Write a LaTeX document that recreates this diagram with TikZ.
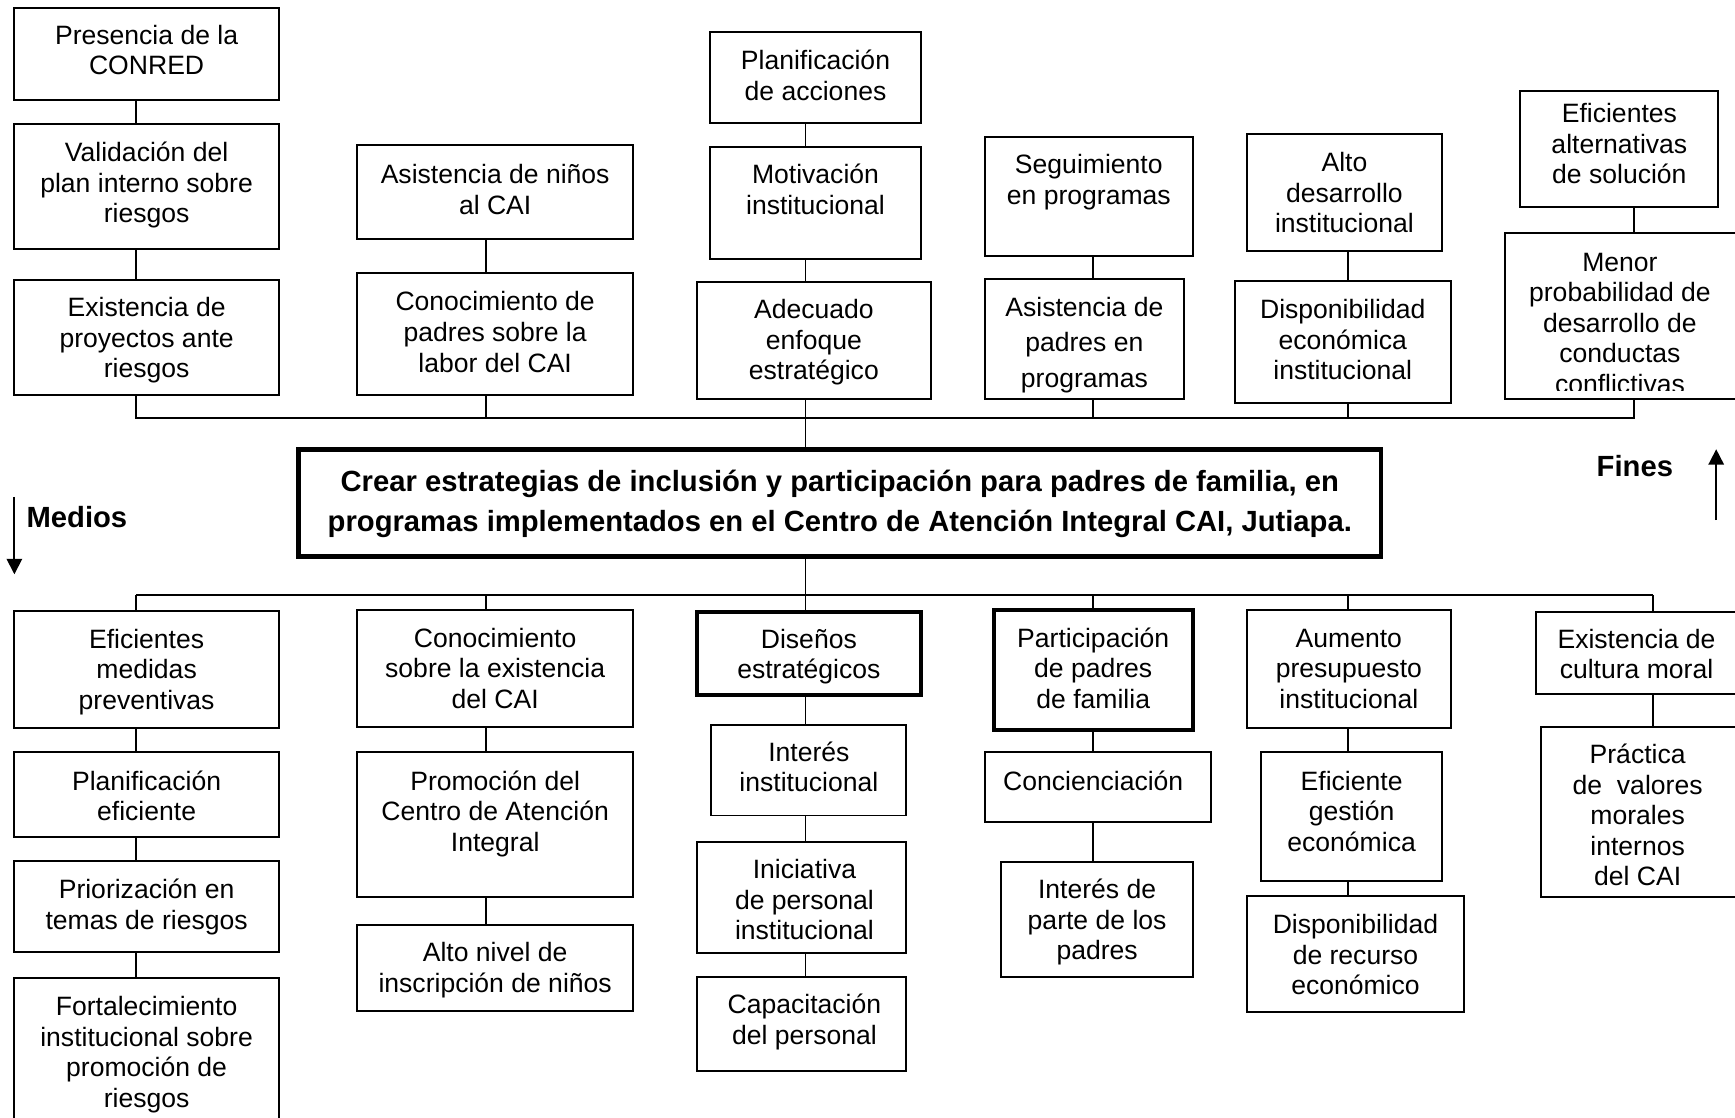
\documentclass[tikz,border=0pt]{standalone}
\usepackage{fontspec}
\setmainfont{Liberation Sans}
\usetikzlibrary{arrows.meta}
\newcommand\bxx[6][box]{%
  \node[#1, minimum width={(#5-#3)*0.5pt}, minimum height={(#6-#4)*0.5pt}] (#2) at ({(#3+#5)/2},{(#4+#6)/2}) {};}
\newcommand\tx[4][]{\node[txt,#1] (#2) at (#3) {#4};}
\begin{document}
\begin{tikzpicture}[x=0.5pt,y=-0.5pt,
  box/.style={draw, line width=0.9pt, inner sep=0pt, outer sep=0pt},
  thickbox/.style={draw, line width=1.9pt, inner sep=0pt, outer sep=0pt},
  mainbox/.style={draw, line width=2.2pt, inner sep=0pt, outer sep=0pt},
  txt/.style={align=center, anchor=base, inner sep=0pt, yshift=-1.5pt, font=\fontsize{12}{13.8}\selectfont},
  btxt/.style={align=center, anchor=base, inner sep=0pt, font=\bfseries\fontsize{13.2}{18}\selectfont},
  conn/.style={line width=0.8pt},
  arr/.style={line width=0.8pt, -{Triangle[length=7pt,width=7pt]}}]
\useasboundingbox (0,0) rectangle (1568,1010);
% ---------- top row (fines) ----------
\bxx{p1}{13}{7}{252}{90}
\bxx{p2}{13}{112}{252}{225}
\bxx{p3}{13}{253}{252}{357}
\bxx{q1}{323}{131}{572}{216}
\bxx{q2}{323}{247}{572}{357}
\bxx{r1}{642}{29}{832}{111}
\bxx{r2}{642}{133}{832}{234}
\bxx{r3}{630}{255}{841}{361}
\bxx{s1}{890}{124}{1078}{231}
\bxx{s2}{890}{252}{1070}{361}
\bxx{u1}{1127}{121}{1303}{227}
\bxx{u2}{1116}{254}{1311}{364}
\bxx{v1}{1374}{82}{1553}{187}
\bxx{v2}{1360}{211}{1590}{361}
\tx{tp1}{132.5,64.6}{Presencia de la\\CONRED}
\tx{tp2}{132.5,198.2}{Validación del\\plan interno sobre\\riesgos}
\tx{tp3}{132.5,338.2}{Existencia de\\proyectos ante\\riesgos}
\tx{tq1}{447.5,190.6}{Asistencia de niños\\al CAI}
\tx{tq2}{447.5,333.2}{Conocimiento de\\padres sobre la\\labor del CAI}
\tx{tr1}{737,87.6}{Planificación\\de acciones}
\tx{tr2}{737,190.6}{Motivación\\institucional}
\tx{tr3}{735.5,340.2}{Adecuado\\enfoque\\estratégico}
\tx{ts1}{984,181.6}{Seguimiento\\en programas}
\tx[font=\fontsize{12}{16}\selectfont]{ts2}{980,347}{Asistencia de\\padres en\\programas}
\tx{tu1}{1215,207.2}{Alto\\desarrollo\\institucional}
\tx{tu2}{1213.5,340.2}{Disponibilidad\\económica\\institucional}
\tx{tv1}{1463.5,163.2}{Eficientes\\alternativas\\de solución}
\begin{scope}
  \clip (1362,213) rectangle (1568,353);
  \tx{tv2}{1464,352.4}{Menor\\probabilidad de\\desarrollo de\\conductas\\conflictivas}
\end{scope}
% columns / bus top
\coordinate (c1) at (123,378);
\coordinate (c2) at (439,378);
\coordinate (c3) at (728,378);
\coordinate (c4) at (988,378);
\coordinate (c5) at (1218,378);
\coordinate (c6) at (1477,378);
\draw[conn] (p1.south -| c1) -- (p2.north -| c1);
\draw[conn] (p2.south -| c1) -- (p3.north -| c1);
\draw[conn] (q1.south -| c2) -- (q2.north -| c2);
\draw[conn] (r1.south -| c3) -- (r2.north -| c3);
\draw[conn] (r2.south -| c3) -- (r3.north -| c3);
\draw[conn] (s1.south -| c4) -- (s2.north -| c4);
\draw[conn] (u1.south -| c5) -- (u2.north -| c5);
\draw[conn] (v1.south -| c6) -- (v2.north -| c6);
\draw[conn] (p3.south -| c1) -- (c1) -- (c6) -- (v2.south -| c6);
\draw[conn] (q2.south -| c2) -- (c2);
\draw[conn] (r3.south -| c3) -- (c3);
\draw[conn] (s2.south -| c4) -- (c4);
\draw[conn] (u2.south -| c5) -- (c5);
% ---------- center ----------
\bxx[mainbox]{main}{270}{406}{1248}{503}
\node[btxt] (tmain) at (759,480) {Crear estrategias de inclusión y participación para padres de familia, en\\programas implementados en el Centro de Atención Integral CAI, Jutiapa.};
\draw[conn] (c3) -- (main.north -| c3);
\node[btxt] (fines) at (1477.5,431) {Fines};
\node[btxt] (medios) at (69.5,477) {Medios};
\coordinate (fA) at (1551,470);
\coordinate (fB) at (1551,406);
\draw[arr] (fA) -- (fB);
\coordinate (mA) at (13,449);
\coordinate (mB) at (13,519);
\draw[arr] (mA) -- (mB);
% ---------- bottom row (medios) ----------
\coordinate (d1) at (123,538);
\coordinate (d2) at (439,538);
\coordinate (d3) at (728,538);
\coordinate (d4) at (988,538);
\coordinate (d5) at (1218,538);
\coordinate (d6) at (1494,538);
\draw[conn] (main.south -| d3) -- (d3);
\draw[conn] (d1) -- (d6);
\bxx{a1}{13}{552}{252}{658}
\bxx{a2}{13}{680}{252}{756}
\bxx{a3}{13}{778}{252}{860}
\bxx{a4}{13}{884}{252}{1030}
\bxx{b1}{323}{551}{572}{657}
\bxx{b2}{323}{680}{572}{811}
\bxx{b3}{323}{836}{572}{914}
\bxx[thickbox]{e1}{630}{553}{832}{628}
\bxx{e2}{643}{655}{819}{737}
\bxx{e3}{630}{761}{819}{861}
\bxx{e4}{630}{883}{819}{968}
\bxx[thickbox]{f1}{898}{551}{1078}{660}
\bxx{f2}{890}{680}{1094}{743}
\bxx{f3}{905}{779}{1078}{883}
\bxx{g1}{1127}{551}{1311}{658}
\bxx{g2}{1140}{680}{1303}{796}
\bxx{g3}{1127}{810}{1323}{915}
\bxx{h1}{1388}{553}{1590}{627}
\bxx{h2}{1393}{657}{1590}{811}
\tx{ta1}{132.5,638.2}{Eficientes\\medidas\\preventivas}
\tx{ta2}{132.5,738.6}{Planificación\\eficiente}
\tx{ta3}{132.5,836.6}{Priorización en\\temas de riesgos}
\tx{ta4}{132.5,997.8}{Fortalecimiento\\institucional sobre\\promoción de\\riesgos}
\tx{tb1}{447.5,637.2}{Conocimiento\\sobre la existencia\\del CAI}
\tx{tb2}{447.5,766.2}{Promoción del\\Centro de Atención\\Integral}
\tx{tb3}{447.5,893.6}{Alto nivel de\\inscripción de niños}
\tx{te1}{731,610.6}{Diseños\\estratégicos}
\tx{te2}{731,712.6}{Interés\\institucional}
\tx{te3}{727,846.2}{Iniciativa\\de personal\\institucional}
\tx{te4}{727,940.6}{Capacitación\\del personal}
\tx{tf1}{988,637.2}{Participación\\de padres\\de familia}
\tx{tf2}{988,711}{Concienciación}
\tx{tf3}{991.5,864.2}{Interés de\\parte de los\\padres}
\tx{tg1}{1219,637.2}{Aumento\\presupuesto\\institucional}
\tx{tg2}{1221.5,766.2}{Eficiente\\gestión\\económica}
\tx{tg3}{1225,896.2}{Disponibilidad\\de recurso\\económico}
\tx{th1}{1479,610.6}{Existencia de\\cultura moral}
\tx{th2}{1480,797.4}{Práctica\\de\ \ valores\\morales\\internos\\del CAI}
\draw[conn] (d1) -- (a1.north -| d1);
\draw[conn] (a1.south -| d1) -- (a2.north -| d1);
\draw[conn] (a2.south -| d1) -- (a3.north -| d1);
\draw[conn] (a3.south -| d1) -- (a4.north -| d1);
\draw[conn] (d2) -- (b1.north -| d2);
\draw[conn] (b1.south -| d2) -- (b2.north -| d2);
\draw[conn] (b2.south -| d2) -- (b3.north -| d2);
\draw[conn] (d3) -- (e1.north -| d3);
\draw[conn] (e1.south -| d3) -- (e2.north -| d3);
\draw[conn] (e2.south -| d3) -- (e3.north -| d3);
\draw[conn] (e3.south -| d3) -- (e4.north -| d3);
\draw[conn] (d4) -- (f1.north -| d4);
\draw[conn] (f1.south -| d4) -- (f2.north -| d4);
\draw[conn] (f2.south -| d4) -- (f3.north -| d4);
\draw[conn] (d5) -- (g1.north -| d5);
\draw[conn] (g1.south -| d5) -- (g2.north -| d5);
\draw[conn] (g2.south -| d5) -- (g3.north -| d5);
\draw[conn] (d6) -- (h1.north -| d6);
\draw[conn] (h1.south -| d6) -- (h2.north -| d6);
\end{tikzpicture}
\end{document}
